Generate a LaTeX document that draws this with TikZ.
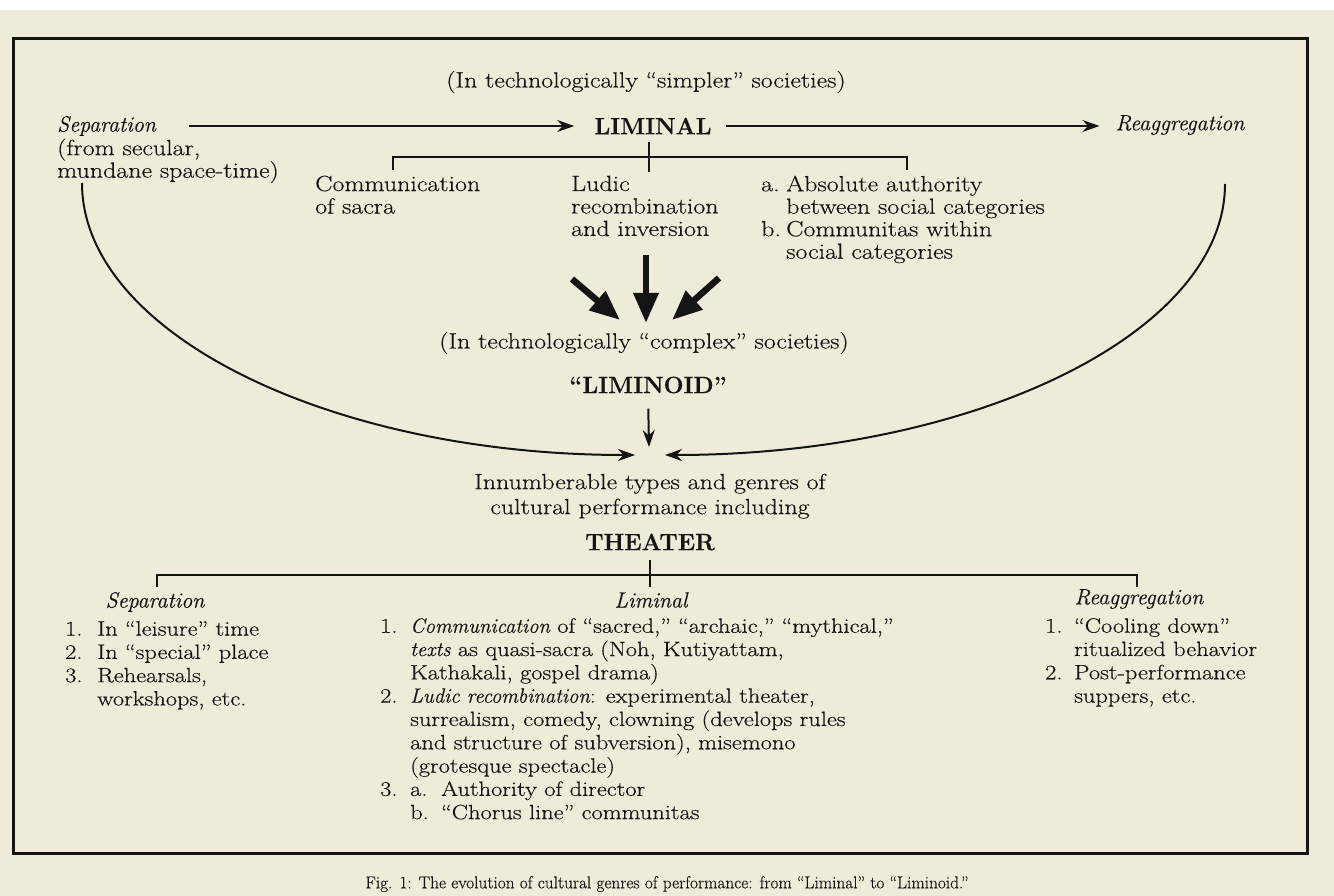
\documentclass[tikz,border=0pt]{standalone}
\usepackage{fontspec}
\setmainfont{Latin Modern Roman}[FakeBold=0.4]
\newfontfamily\widefont{Latin Modern Roman}[FakeStretch=1.18, FakeBold=0.4]
\newfontfamily\capfont{Latin Modern Roman}[FakeBold=0.3]
\usetikzlibrary{arrows.meta}
\definecolor{paper}{HTML}{EFEBD9}
\definecolor{ink}{HTML}{141414}
\newcommand\bigfont{\widefont\fontsize{22}{22.5}\selectfont}
\newcommand\listfont{\widefont\fontsize{20.7}{23.3}\selectfont}
\newcommand\headfont{\rmfamily\itshape\fontsize{22}{22.5}\selectfont}
\newcommand\boldfont{\rmfamily\bfseries\fontsize{23.5}{26}\selectfont}
\newcommand\myit[1]{{\rmfamily\itshape #1}}
\newcommand\mynum[2][30pt]{\makebox[#1][l]{#2}}
\newcommand\myind[1][30pt]{\hspace*{#1}}
\begin{document}
\begin{tikzpicture}[x=1pt,y=-1pt,
  every node/.style={inner sep=0pt, text=ink},
  font=\bigfont,
  arr/.style={draw=ink, line width=2pt, -{Stealth[length=17pt,width=12pt]}},
  thk/.style={draw=ink, line width=6.5pt, -{Triangle[length=30pt,width=24pt]}},
  brk/.style={draw=ink, line width=2pt},
  listnode/.style={anchor=north west, align=left},
  head/.style={font=\headfont},
  bold/.style={font=\boldfont}]
\useasboundingbox (0,0) rectangle (1334,896);
\fill[white] (0,0) rectangle (1334,10);
\fill[paper] (0,10) rectangle (1334,896);
\draw[ink, line width=3pt] (13,39) rectangle (1307,853);

% top part
\node (simpler) at (646,82) {(In technologically “simpler” societies)};
\node[head, anchor=west] (sepw) at (57,126) {Separation};
\node[listnode] (sepx) at (57,138.5) {(from secular,\\mundane space-time)};
\node[bold] (liminal) at (653,126) {LIMINAL};
\node[head] (reagg) at (1180,125) {Reaggregation};
\draw[arr, shorten <=33pt, shorten >=20pt] (sepw.east) -- (sepw.east -| liminal.west);
\draw[arr, shorten <=14pt, shorten >=16pt] (liminal.east) -- (liminal.east -| reagg.west);

% upper bracket
\coordinate (b1) at (393,170);
\coordinate (b2) at (907,170);
\coordinate (bm) at (649,157);
\coordinate (lt) at (649,142);
\coordinate (lb) at (649,172);
\draw[brk] (b1) -- (b1 |- bm) -- (b2 |- bm) -- (b2);
\draw[brk] (lt) -- (lb);

\node[listnode] (comm) at (315,175.5) {Communication\\of sacra};
\node[listnode] (ludic) at (571,175.5) {Ludic\\recombination\\and inversion};
\node[listnode] (auth) at (761,175.5) {\mynum[25pt]{a.}Absolute authority\\\myind[25pt]between social categories\\\mynum[25pt]{b.}Communitas within\\\myind[25pt]social categories};

% thick arrows
\coordinate (ta1) at (646,255);
\coordinate (tb1) at (646,323);
\coordinate (ta2) at (572,279);
\coordinate (tb2) at (620,320);
\coordinate (ta3) at (719,278);
\coordinate (tb3) at (672,320);
\draw[thk] (ta1) -- (tb1);
\draw[thk] (ta2) -- (tb2);
\draw[thk] (ta3) -- (tb3);

\node (complex) at (644,343) {(In technologically “complex” societies)};
\node[bold] (liminoid) at (648,385) {“LIMINOID”};
\coordinate (cm) at (649,447);
\draw[arr, shorten <=15pt] (liminoid.south) -- (cm);

% big curves
\coordinate (cL) at (82,183);
\coordinate (tL) at (635,455);
\coordinate (cR) at (1225,184);
\coordinate (tR) at (665,455);
\draw[arr] (cL) .. controls (82,333) and (330,455) .. (tL);
\draw[arr] (cR) .. controls (1225,333) and (974,455) .. (tR);

\node[anchor=north, align=center, font=\widefont\fontsize{22}{25}\selectfont] (innum) at (650,473.5) {Innumberable types and genres of\\cultural performance including};
\node[bold] (theater) at (650,542) {THEATER};

% lower bracket
\coordinate (d1) at (157,587);
\coordinate (d2) at (1137,587);
\coordinate (dm) at (650,575);
\coordinate (dt) at (650,560);
\coordinate (db) at (650,587);
\draw[brk] (d1) -- (d1 |- dm) -- (d2 |- dm) -- (d2);
\draw[brk] (dt) -- (db);

\node[head] (sepb) at (155,602) {Separation};
\node[listnode, font=\listfont] (sepl) at (65,621) {\mynum[32pt]{1.}In “leisure” time\\\mynum[32pt]{2.}In “special” place\\\mynum[32pt]{3.}Rehearsals,\\\myind[32pt]workshops, etc.};

\node[head] (limb) at (651,600) {Liminal};
\node[listnode, font=\listfont] (liml) at (380,618) {\mynum{1.}\myit{Communication} of “sacred,” “archaic,” “mythical,”\\\myind\myit{texts} as quasi-sacra (Noh, Kutiyattam,\\\myind Kathakali, gospel drama)\\\mynum{2.}\myit{Ludic recombination}: experimental theater,\\\myind surrealism, comedy, clowning (develops rules\\\myind and structure of subversion), misemono\\\myind (grotesque spectacle)\\\mynum{3.}\mynum[31pt]{a.}Authority of director\\\myind\mynum[31pt]{b.}“Chorus line” communitas};

\node[head] (reab) at (1139,599) {Reaggregation};
\node[listnode, font=\listfont] (real) at (1045,618) {\mynum[29pt]{1.}“Cooling down”\\\myind[29pt]ritualized behavior\\\mynum[29pt]{2.}Post-performance\\\myind[29pt]suppers, etc.};

\node[font=\capfont\fontsize{17.3}{20}\selectfont] (cap) at (667,884) {Fig. 1: The evolution of cultural genres of performance: from “Liminal” to “Liminoid.”};
\end{tikzpicture}
\end{document}
